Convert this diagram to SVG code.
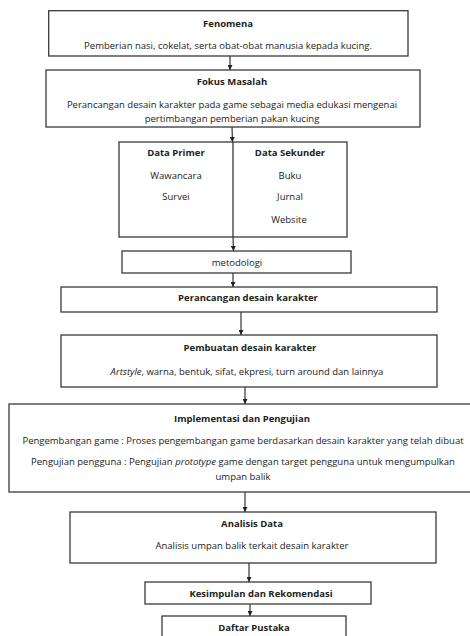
<svg xmlns="http://www.w3.org/2000/svg" width="470" height="636" viewBox="0 0 470 636">
<defs>
<marker id="ah" viewBox="0 0 6 6" refX="6" refY="3" markerWidth="5" markerHeight="5" markerUnits="userSpaceOnUse" orient="auto">
<path d="M0,0 L6,3 L0,6 z" fill="#222"/>
</marker>
<style>
.box{fill:#fff;stroke:#3a3a3a;stroke-width:1.3}
.t{font-family:"Open Sans","Liberation Sans",sans-serif;font-size:9.5px;fill:#222;text-anchor:middle}
.b{font-weight:bold}
.c{stroke:#222;stroke-width:1.1;fill:none;marker-end:url(#ah)}
.l{stroke:#3a3a3a;stroke-width:1.3;fill:none}
</style>
</defs>
<rect width="470" height="636" fill="#fff"/>
<g id="connectors">
<line class="c" x1="230" y1="56" x2="230" y2="70"/>
<line class="c" x1="232" y1="127" x2="232.5" y2="142"/>
<line class="c" x1="233" y1="237" x2="233.5" y2="251"/>
<line class="c" x1="233" y1="273" x2="233" y2="287"/>
<line class="c" x1="241" y1="312" x2="241" y2="335"/>
<line class="c" x1="245" y1="387" x2="245" y2="404"/>
<line class="c" x1="245" y1="492" x2="245" y2="512"/>
<line class="c" x1="249" y1="563" x2="249" y2="582"/>
<line class="c" x1="250" y1="604" x2="250" y2="616"/>
</g>
<g id="fenomena">
<rect class="box" x="48.7" y="10.7" width="359.3" height="45.3"/>
<text class="t b" x="228" y="26.5">Fenomena</text>
<text class="t" x="228" y="48.5">Pemberian nasi, cokelat, serta obat-obat manusia kepada kucing.</text>
</g>
<g id="fokus">
<rect class="box" x="46" y="70" width="374" height="57"/>
<text class="t b" x="232" y="84.5">Fokus Masalah</text>
<text class="t" x="232" y="107.5">Perancangan desain karakter pada game sebagai media edukasi mengenai</text>
<text class="t" x="232" y="121.5">pertimbangan pemberian pakan kucing</text>
</g>
<g id="data">
<rect class="box" x="119" y="142" width="228" height="95"/>
<line class="l" x1="233" y1="142" x2="233" y2="237"/>
<text class="t b" x="176" y="155.5">Data Primer</text>
<text class="t" x="176" y="178.5">Wawancara</text>
<text class="t" x="176" y="199.5">Survei</text>
<text class="t b" x="290" y="155.5">Data Sekunder</text>
<text class="t" x="290" y="178.5">Buku</text>
<text class="t" x="290" y="199.5">Jurnal</text>
<text class="t" x="289" y="222.5">Website</text>
</g>
<g id="metodologi">
<rect class="box" x="122" y="251" width="229" height="22"/>
<text class="t" x="237" y="265.5">metodologi</text>
</g>
<g id="perancangan">
<rect class="box" x="61" y="287" width="376" height="25"/>
<text class="t b" x="248" y="300.5">Perancangan desain karakter</text>
</g>
<g id="pembuatan">
<rect class="box" x="61" y="335" width="376" height="52"/>
<text class="t b" x="250" y="350.5">Pembuatan desain karakter</text>
<text class="t" x="247" y="374.5"><tspan font-style="italic">Artstyle</tspan>, warna, bentuk, sifat, ekpresi, turn around dan lainnya</text>
</g>
<g id="implementasi">
<rect class="box" x="9" y="404" width="470" height="88"/>
<text class="t b" x="242" y="421.5">Implementasi dan Pengujian</text>
<text class="t" x="243" y="443.5">Pengembangan game : Proses pengembangan game berdasarkan desain karakter yang telah dibuat</text>
<text class="t" x="243" y="464.5">Pengujian pengguna : Pengujian <tspan font-style="italic">prototype</tspan> game dengan target pengguna untuk mengumpulkan</text>
<text class="t" x="243" y="479.5">umpan balik</text>
</g>
<g id="analisis">
<rect class="box" x="70" y="512" width="366" height="51"/>
<text class="t b" x="252" y="526.5">Analisis Data</text>
<text class="t" x="252" y="548.5">Analisis umpan balik terkait desain karakter</text>
</g>
<g id="kesimpulan">
<rect class="box" x="145" y="582" width="226" height="22"/>
<text class="t b" x="261" y="596.5">Kesimpulan dan Rekomendasi</text>
</g>
<g id="daftar">
<rect class="box" x="162" y="616" width="184" height="30"/>
<text class="t b" x="254" y="630.5">Daftar Pustaka</text>
</g>
</svg>
